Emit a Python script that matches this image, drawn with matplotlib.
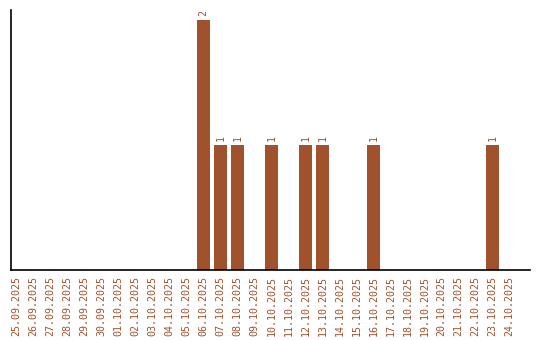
import matplotlib
matplotlib.use("Agg")
import matplotlib.pyplot as plt

dates = ["25.09.2025", "26.09.2025", "27.09.2025", "28.09.2025", "29.09.2025",
         "30.09.2025", "01.10.2025", "02.10.2025", "03.10.2025", "04.10.2025",
         "05.10.2025", "06.10.2025", "07.10.2025", "08.10.2025", "09.10.2025",
         "10.10.2025", "11.10.2025", "12.10.2025", "13.10.2025", "14.10.2025",
         "15.10.2025", "16.10.2025", "17.10.2025", "18.10.2025", "19.10.2025",
         "20.10.2025", "21.10.2025", "22.10.2025", "23.10.2025", "24.10.2025"]
counts = [0, 0, 0, 0, 0, 0, 0, 0, 0, 0,
          0, 2, 1, 1, 0, 1, 0, 1, 1, 0,
          0, 1, 0, 0, 0, 0, 0, 0, 1, 0]

color = "#a0522d"
mono = "DejaVu Sans Mono"

fig = plt.figure(figsize=(5.4, 3.4), dpi=100)
ax = fig.add_axes([0.0204, 0.206, 0.9607, 0.765])

x = list(range(len(dates)))
ax.bar(x, counts, width=0.8, color=color)

for xi, c in zip(x, counts):
    if c > 0:
        ax.text(xi, c + 0.03, str(c), rotation=90, ha="center", va="bottom",
                color=color, fontsize=7.2, family=mono)

ax.set_xlim(-0.33, 30.2)
ax.set_ylim(0, 2.08)
ax.set_xticks(x)
ax.set_xticklabels(dates, rotation=90, color=color, fontsize=7.2, family=mono)
ax.set_yticks([])
ax.tick_params(axis="x", length=0, pad=4)
ax.spines["top"].set_visible(False)
ax.spines["right"].set_visible(False)
ax.spines["left"].set_linewidth(1.2)
ax.spines["bottom"].set_linewidth(1.2)

fig.savefig("out.png", dpi=100)
